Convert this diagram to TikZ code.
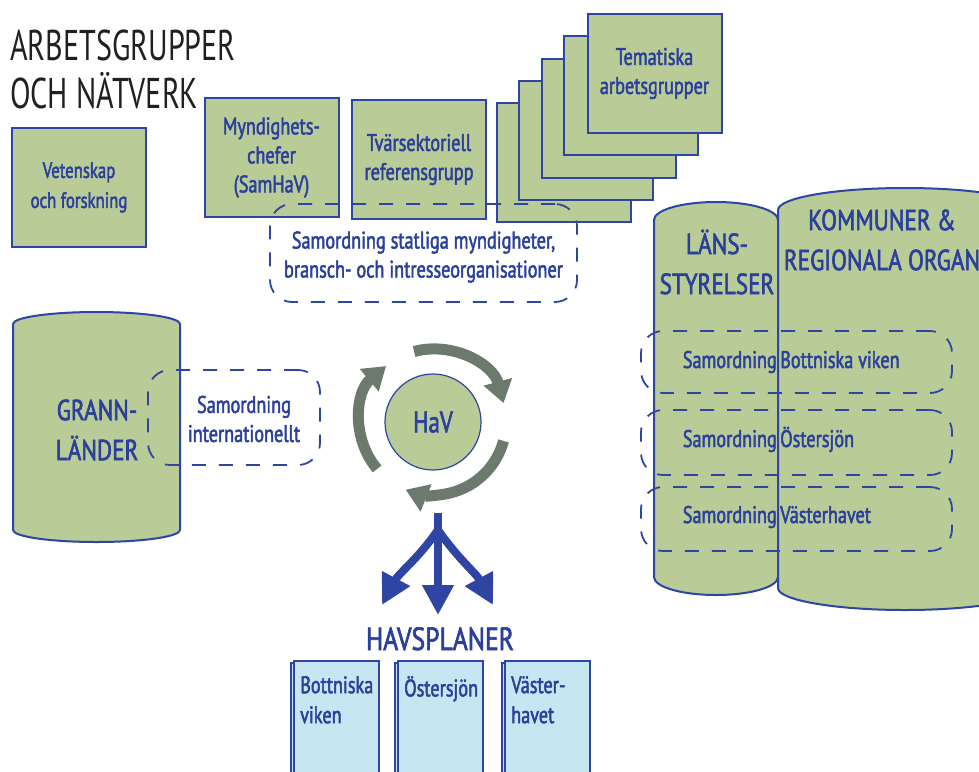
\documentclass[tikz,border=0pt]{standalone}
\usepackage{fontspec}
\setmainfont[FakeStretch=0.76, FakeBold=2]{PT Sans}
\newfontfamily\titlefont[FakeStretch=0.7]{PT Sans}
\newfontfamily\capsfont[FakeStretch=0.8, FakeBold=2]{PT Sans}
\usetikzlibrary{arrows.meta,shadows}
\definecolor{boxgreen}{HTML}{B9CB97}
\definecolor{lineblue}{HTML}{2E45A3}
\definecolor{textblue}{HTML}{2B3F9C}
\definecolor{planblue}{HTML}{C6E7F1}
\definecolor{arrowgray}{HTML}{6B7A6D}
\definecolor{titleblack}{HTML}{231F20}
\begin{document}
\begin{tikzpicture}[x=1pt, y=1pt,
    groupbox/.style={draw=lineblue, line width=2pt, fill=boxgreen, minimum width=134pt,
      minimum height=119pt, inner sep=0pt, text=textblue, align=center,
      font=\fontsize{24}{29}\selectfont},
    drum/.style={draw=lineblue, line width=2pt, fill=boxgreen},
    bigtext/.style={text=textblue, align=center, font=\capsfont\fontsize{29}{40}\selectfont},
    smalltext/.style={text=textblue, align=center, font=\fontsize{24}{29}\selectfont},
    coordbox/.style={draw=lineblue, line width=1.8pt, dash pattern=on 14pt off 13pt,
      rounded corners=22pt, inner sep=0pt},
    cyclearrow/.style={draw=arrowgray, line width=11pt, -{Triangle[length=22pt,width=28pt]}},
    planarrow/.style={draw=lineblue, line width=8pt, -{Triangle[length=30pt,width=30pt]}},
    planbox/.style={draw=lineblue, line width=1.5pt, fill=planblue, minimum width=85pt,
      minimum height=130pt, anchor=north west,
      copy shadow={shadow xshift=-3pt, shadow yshift=-2pt}},
    plantext/.style={text=textblue, align=left, anchor=north west, inner sep=0pt,
      font=\fontsize{24}{30}\selectfont}
  ]
  \clip (0,0) rectangle (979,-771);

  % title
  \node[anchor=base west, text=titleblack, font=\titlefont\fontsize{43}{48}\selectfont, inner sep=0pt]
    (title1) at (10,-60) {ARBETSGRUPPER};
  \node[anchor=base west, text=titleblack, font=\titlefont\fontsize{43}{48}\selectfont, inner sep=0pt]
    (title2) at (10,-108) {OCH NÄTVERK};

  % working groups
  \node[groupbox, font=\fontsize{22}{30}\selectfont] (science) at (79,-187.5) {Vetenskap\\och forskning};
  \node[groupbox] (samhav) at (271.5,-157.5) {Myndighets-\\chefer\\(SamHaV)};
  \node[groupbox] (refgroup) at (419,-159.5) {Tvärsektoriell\\referensgrupp};
  \foreach \i in {0,...,3}
    \node[groupbox] (theme\i) at (563.5+22.5*\i,-162.5+22.25*\i) {};
  \node[groupbox] (theme4) at (654.5,-73.5) {Tematiska\\arbetsgrupper};

  % national coordination
  \node[coordbox, minimum width=307pt, minimum height=98pt] (national) at (423.5,-253) {};
  \node[smalltext] (nationaltext) at (423.5,-257) {Samordning statliga myndigheter,\\bransch- och intresseorganisationer};

  % neighbouring countries
  \path[drum] (13,-324) arc[start angle=180, end angle=0, x radius=83.5, y radius=12]
    -- (180,-530) arc[start angle=0, end angle=-180, x radius=83.5, y radius=12] -- cycle;
  \node[bigtext] (neighbours) at (97,-430) {GRANN-\\LÄNDER};
  \node[coordbox, minimum width=172pt, minimum height=95pt] (intl) at (234,-417.5) {};
  \node[smalltext] (intltext) at (244,-419) {Samordning\\internationellt};

  % county boards and municipalities
  \path[drum] (654,-220) arc[start angle=180, end angle=0, x radius=62, y radius=18]
    -- (778,-577) arc[start angle=0, end angle=-180, x radius=62, y radius=18] -- cycle;
  \path[drum] (778,-210) arc[start angle=180, end angle=0, x radius=127, y radius=22]
    -- (1032,-588) arc[start angle=0, end angle=-180, x radius=127, y radius=22] -- cycle;
  \node[bigtext] (county) at (717,-262) {LÄNS-\\STYRELSER};
  \node[bigtext] (municipal) at (882,-240) {KOMMUNER \&\\REGIONALA ORGAN};

  % regional coordination
  \node[coordbox, minimum width=311pt, minimum height=62pt] (bothnia) at (796.5,-362) {};
  \node[coordbox, minimum width=311pt, minimum height=65pt] (baltic) at (796.5,-442.5) {};
  \node[coordbox, minimum width=311pt, minimum height=64pt] (western) at (796.5,-519) {};
  \foreach \name/\y/\sea in {bothnia/368/Bottniska viken, baltic/447/Östersjön, western/523/Västerhavet} {
    \node[smalltext, anchor=base east, inner sep=0pt] (\name a) at (777,-\y) {Samordning};
    \node[smalltext, anchor=base west, inner sep=0pt] (\name b) at (780,-\y) {\sea};
  }

  % HaV
  \node[circle, draw=lineblue, line width=1.2pt, fill=boxgreen, minimum size=96pt, text=textblue,
    font=\fontsize{30}{32}\selectfont] (hav) at (433,-422) {HaV};
  \draw[cyclearrow] ([shift={(105:73)}]hav.center) arc[start angle=105, end angle=15, radius=73];
  \draw[cyclearrow] ([shift={(-15:73)}]hav.center) arc[start angle=-15, end angle=-112, radius=73];
  \draw[cyclearrow] ([shift={(220:73)}]hav.center) arc[start angle=220, end angle=130, radius=73];

  % plans
  \coordinate (fork) at (438,-513);
  \coordinate (split) at (438,-530);
  \coordinate (lefttip) at (382,-605);
  \coordinate (midtip) at (438,-615);
  \coordinate (righttip) at (493,-605);
  \draw[planarrow] (fork) -- (midtip);
  \draw[planarrow] (split) to[out=-125, in=62] (lefttip);
  \draw[planarrow] (split) to[out=-55, in=118] (righttip);
  \node[text=textblue, font=\capsfont\fontsize{32}{36}\selectfont, anchor=base, inner sep=0pt]
    (plans) at (440,-650) {HAVSPLANER};

  \node[planbox] (planbothnia) at (293,-660) {};
  \node[planbox] (planbaltic) at (397,-660) {};
  \node[planbox] (planwestern) at (504,-660) {};
  \node[plantext] (planbothniatext) at ([shift={(7,-16)}]planbothnia.north west) {Bottniska\\viken};
  \node[plantext] (planbaltictext) at ([shift={(7,-16)}]planbaltic.north west) {Östersjön};
  \node[plantext] (planwesterntext) at ([shift={(7,-16)}]planwestern.north west) {Väster-\\havet};
\end{tikzpicture}
\end{document}
